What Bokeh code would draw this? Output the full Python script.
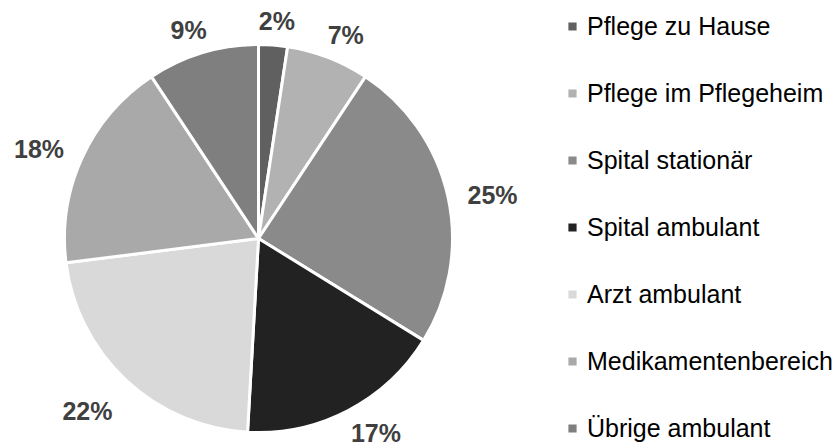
import math
from bokeh.plotting import figure
from bokeh.models import ColumnDataSource, Range1d, Legend, LegendItem
from bokeh.core.properties import value
from bokeh.embed import file_html
from bokeh.resources import INLINE

# ---- data ----
categories = ["Pflege zu Hause", "Pflege im Pflegeheim", "Spital stationär",
              "Spital ambulant", "Arzt ambulant", "Medikamentenbereich",
              "Übrige ambulant"]
shares = [2.4, 6.9, 24.5, 17.1, 22.1, 17.7, 9.3]
labels = ["2%", "7%", "25%", "17%", "22%", "18%", "9%"]
colors = ["#606060", "#b2b2b2", "#8a8a8a", "#222222", "#d9d9d9", "#a9a9a9", "#7f7f7f"]

W, H = 840, 447
CX, CY, R = 258, H - 238, 194
FONT = "Liberation Sans"
LABEL_PX = 25

total = sum(shares)
starts, ends, mids = [], [], []
acc = 0.0
for s in shares:
    a0 = acc / total * 2 * math.pi
    acc += s
    a1 = acc / total * 2 * math.pi
    starts.append(math.pi / 2 - a0)
    ends.append(math.pi / 2 - a1)
    mids.append((a0 + a1) / 2)  # clockwise from 12 o'clock

src = ColumnDataSource(dict(start=starts, end=ends, color=colors, cat=categories))

p = figure(width=W, height=H, output_backend="svg", toolbar_location=None,
           x_range=Range1d(0, W), y_range=Range1d(0, H), min_border=0,
           background_fill_color="white", border_fill_color="white")
p.axis.visible = False
p.grid.visible = False
p.outline_line_color = None

wr = p.wedge(x=CX, y=CY, radius=R, start_angle="start", end_angle="end",
             direction="clock", fill_color="color", line_color="white",
             line_width=3, source=src)


def soft_sign(t):
    return max(-1.0, min(1.0, 1.6 * t))


# percentage labels, placed outside the pie ("outside end") along each mid angle
lx, ly = [], []
anchor_r = R + 20
margin_y = 0.56 * LABEL_PX + 1
for lab, th in zip(labels, mids):
    w = LABEL_PX * (0.556 * (len(lab) - 1) + 0.889)
    h = LABEL_PX * 0.8
    sx, cy_ = math.sin(th), math.cos(th)
    x = CX + anchor_r * sx + w / 2 * soft_sign(sx)
    y = CY + anchor_r * cy_ + h / 2 * soft_sign(cy_) - 6
    y = max(margin_y, min(H - margin_y, y))
    lx.append(x)
    ly.append(y)
p.text(x=lx, y=ly, text=labels, text_align="center", text_baseline="middle",
       text_font=value(FONT), text_font_style="bold",
       text_font_size=f"{LABEL_PX}px", text_color="#404040")

items = [LegendItem(label=c, renderers=[wr], index=i) for i, c in enumerate(categories)]
legend = Legend(items=items, location=(565, 4), orientation="vertical",
                glyph_width=14, glyph_height=14, label_standoff=8,
                label_height=30, spacing=37, padding=0, margin=0,
                border_line_color=None, background_fill_alpha=0,
                label_text_font=FONT, label_text_font_size="25px",
                label_text_color="#000000")
p.add_layout(legend, "center")

open("out.html", "w").write(file_html(p, INLINE))
